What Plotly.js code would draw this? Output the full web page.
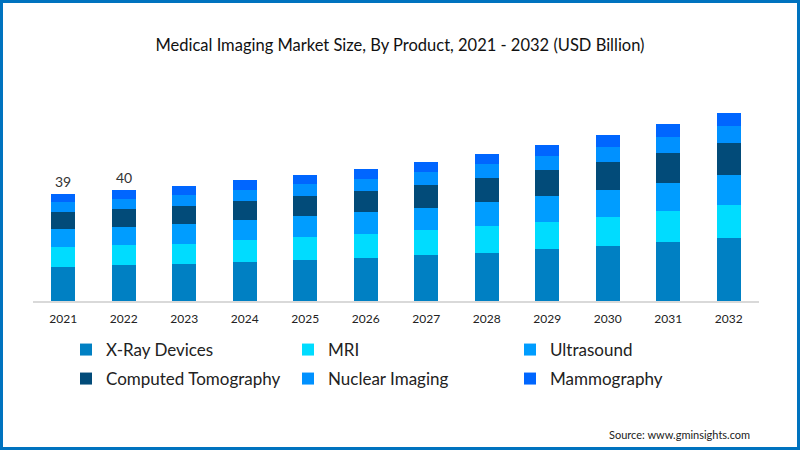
<!DOCTYPE html>
<html>
<head>
<meta charset="utf-8">
<script src="https://cdn.plot.ly/plotly-3.0.1.min.js"></script>
<style>
  html, body { margin: 0; padding: 0; background: #fff; }
  #wrap { position: relative; width: 800px; height: 450px; }
  #chart { width: 800px; height: 450px; }
  #frame { position: absolute; left: 0; top: 0; width: 800px; height: 450px; box-sizing: border-box; border: 3px solid #0073bf; pointer-events: none; }
</style>
</head>
<body>
<div id="wrap"><div id="chart"></div><div id="frame"></div></div>
<script>
const years = ["2021","2022","2023","2024","2025","2026","2027","2028","2029","2030","2031","2032"];
const xray      = [12.4, 13.1, 13.5, 14.2, 14.9, 15.7, 16.8, 17.5, 19.0, 20.0, 21.5, 23.0];
const mri       = [7.3, 7.3, 7.3, 8.0, 8.4, 8.7, 9.1, 9.8, 9.8, 10.6, 11.3, 12.0];
const ultrasound= [6.6, 6.6, 7.3, 7.3, 7.7, 8.0, 8.0, 8.7, 9.5, 9.8, 10.2, 10.9];
const ct        = [6.2, 6.6, 6.6, 6.9, 7.3, 7.7, 8.4, 8.7, 9.5, 10.2, 10.9, 11.7];
const nuclear   = [3.6, 3.6, 4.0, 4.0, 4.4, 4.4, 4.7, 5.1, 5.1, 5.5, 5.8, 6.2];
const mammo     = [2.9, 3.3, 3.3, 3.6, 3.3, 3.6, 3.6, 3.6, 4.0, 4.4, 4.7, 4.7];
const labelYears = ["2021", "2022"];
const labelValues = [39, 40];

const FONT = "Lato, 'Open Sans', sans-serif";
const series = [
  {name: "X-Ray Devices", y: xray, color: "#0080c3", legend: "legend"},
  {name: "MRI", y: mri, color: "#00dcff", legend: "legend"},
  {name: "Ultrasound", y: ultrasound, color: "#009dff", legend: "legend"},
  {name: "Computed Tomography", y: ct, color: "#024b79", legend: "legend2"},
  {name: "Nuclear Imaging", y: nuclear, color: "#0091ff", legend: "legend2"},
  {name: "Mammography", y: mammo, color: "#0066ff", legend: "legend2"}
];
const traces = series.map(s => ({
  type: "bar", x: years, y: s.y, name: s.name, legend: s.legend,
  marker: {color: s.color, line: {width: 0}}, width: 0.4, hoverinfo: "name+y"
}));

const totals = years.map((_, i) => series.reduce((a, s) => a + s.y[i], 0));
const annotations = labelYears.map((yr, k) => {
  const i = years.indexOf(yr);
  return {x: i, y: totals[i], text: String(labelValues[k]), showarrow: false,
    yanchor: "bottom", yshift: 2, font: {family: FONT, size: 14, color: "#333333"}};
});
annotations.push({xref: "paper", yref: "paper", x: (752 - 33) / 726, xanchor: "right", y: -134 / 201, yanchor: "middle",
  text: "Source: www.gminsights.com", showarrow: false, font: {family: FONT, size: 11, color: "#222"}});

const legendBase = {orientation: "h", xref: "container", yref: "container", xanchor: "left", yanchor: "middle",
  entrywidth: 177, entrywidthmode: "pixels", font: {family: FONT, size: 17, color: "#222"},
  bgcolor: "rgba(0,0,0,0)", traceorder: "normal", itemclick: false, itemdoubleclick: false};

const layout = {
  width: 800, height: 450,
  margin: {l: 33, r: 41, t: 100, b: 149},
  paper_bgcolor: "#ffffff", plot_bgcolor: "#ffffff",
  barmode: "stack",
  font: {family: FONT, color: "#222"},
  title: {text: "Medical Imaging Market Size, By Product, 2021 - 2032 (USD Billion)",
    x: 0.5, xref: "container", xanchor: "center", y: 1 - 45/450, yref: "container", yanchor: "middle",
    font: {family: FONT, size: 16.5, color: "#111"}},
  xaxis: {type: "category", showline: true, linecolor: "#d9d9d9", linewidth: 1.5, showgrid: false,
    ticks: "", tickfont: {family: FONT, size: 12, color: "#222"}, ticklabelstandoff: 6, fixedrange: true},
  yaxis: {range: [0, 201/2.744], visible: false, showgrid: false, zeroline: false, fixedrange: true},
  showlegend: true,
  legend: Object.assign({}, legendBase, {x: 66/800, y: 1 - 350/450}),
  legend2: Object.assign({}, legendBase, {x: 66/800, y: 1 - 379/450}),
  annotations: annotations
};
Plotly.newPlot("chart", traces, layout, {displayModeBar: false});
</script>
</body>
</html>
